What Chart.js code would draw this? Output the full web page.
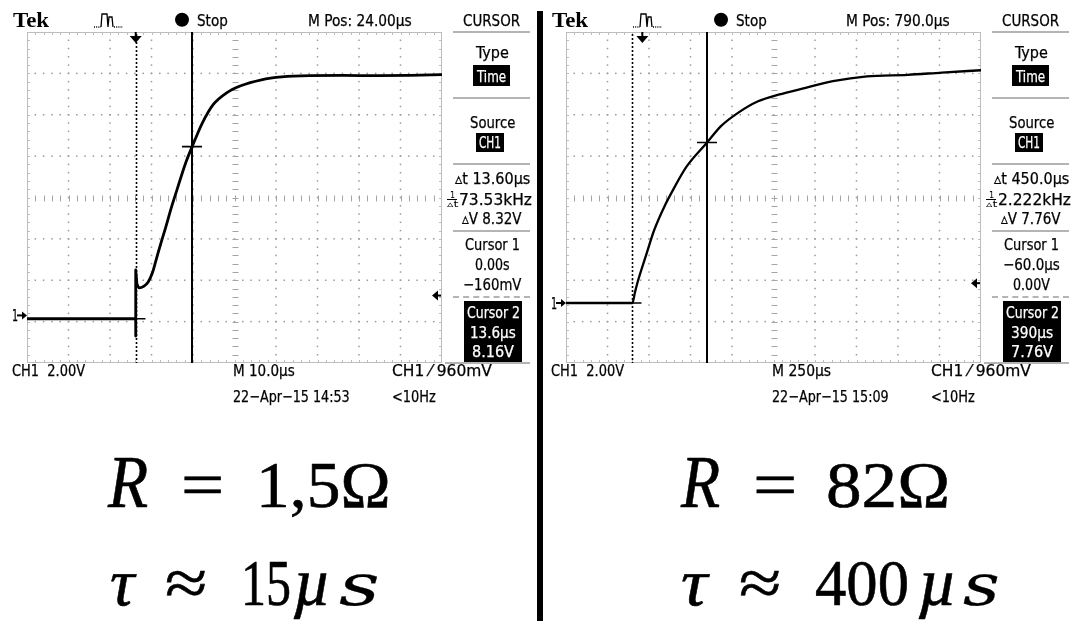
<!DOCTYPE html>
<html><head><meta charset="utf-8">
<script src="https://cdn.jsdelivr.net/npm/chart.js@4.4.1/dist/chart.umd.min.js"></script>
<style>
html,body{margin:0;padding:0;background:#fff;}
#root{position:relative;width:1073px;height:621px;overflow:hidden;background:#fff;}
canvas{position:absolute;top:0;}
.t{position:absolute;white-space:pre;transform-origin:0 0;color:#000;}
.box{position:absolute;background:#000;}
.sep{position:absolute;height:0;border-top:2px solid #b4b4b4;}
</style></head><body><div id="root"></div>
<script>
// ---- data (time in microseconds, voltage in volts) ----
// left trace: baseline + switching glitch (drawn straight), then the rise (smoothed)
const leftGlitchTimeUs = [-26.2, -15, -5, 0, 0, 0, 0.3];
const leftGlitchVolts  = [-0.16, -0.16, -0.16, -0.16, -1.0, 2.2, 1.5];
const leftRiseTimeUs = [0.3, 0.84, 2.0, 3.0, 4.0, 5.0, 6.0, 7.06, 8.67, 9.95, 12.05, 13.6, 16.1, 18.7, 21.9, 25.3, 30.3, 35.2, 41.9, 50, 58.5, 66, 73.8];
const leftRiseVolts  = [1.5, 1.33, 1.42, 1.62, 2.05, 2.75, 3.45, 4.15, 5.27, 6.08, 7.38, 8.16, 9.32, 10.2, 10.76, 11.1, 11.39, 11.53, 11.59, 11.6, 11.59, 11.6, 11.64];
const rightTimeUs = [-460, -200, -60, -45, -30, 20, 72, 133, 185, 267, 390, 472, 574, 697, 820, 984, 1148, 1353, 1599, 1804, 2040];
const rightVolts  = [0, 0, 0, 0.5, 0.97, 2.25, 3.54, 4.67, 5.47, 6.6, 7.76, 8.54, 9.18, 9.75, 10.07, 10.4, 10.72, 10.96, 11.03, 11.14, 11.25];

// axis windows: 10 horizontal divisions, 8 vertical divisions (2 V/div)
const leftXRange = [-26.2, 73.8];   // 10 µs/div
const rightXRange = [-460, 2040];   // 250 µs/div
const leftYRange = [-2.3, 13.7];
const rightYRange = [-2.9, 13.1];

// cursors / trigger
const leftCursors  = {c1t: 0,   c1v: -0.16, c2t: 13.6, c2v: 8.16, trigT: 0, trigLevel: 0.96};
const rightCursors = {c1t: -60, c1v: 0,     c2t: 390,  c2v: 7.76, trigT: 0, trigLevel: 0.96};

// text content
const leftHeader  = ['Tek', 'Stop', 'M Pos: 24.00µs', 'CURSOR'];
const rightHeader = ['Tek', 'Stop', 'M Pos: 790.0µs', 'CURSOR'];
const leftMenu  = ['Type', 'Time', 'Source', 'CH1', '▵t 13.60µs', '73.53kHz', '▵V 8.32V', 'Cursor 1', '0.00s', '−160mV', 'Cursor 2', '13.6µs', '8.16V'];
const rightMenu = ['Type', 'Time', 'Source', 'CH1', '▵t 450.0µs', '2.222kHz', '▵V 7.76V', 'Cursor 1', '−60.0µs', '0.00V', 'Cursor 2', '390µs', '7.76V'];
const leftFooter  = ['CH1  2.00V', 'M 10.0µs', 'CH1 ⁄ 960mV', '22−Apr−15 14:53', '<10Hz'];
const rightFooter = ['CH1  2.00V', 'M 250µs', 'CH1 ⁄ 960mV', '22−Apr−15 15:09', '<10Hz'];

const root = document.getElementById('root');
const SCOPE_FONT = '"Liberation Sans Narrow","DejaVu Sans Condensed","Liberation Sans",sans-serif';
const MATH_FONT = '"Liberation Serif","DejaVu Serif",serif';
const MATH_FONT2 = '"DejaVu Serif","Liberation Serif",serif';

function addText(str, x0, x1, base, opt) {
  opt = opt || {};
  const el = document.createElement('div');
  el.className = 't';
  const size = opt.size || 16;
  el.style.fontFamily = opt.family || SCOPE_FONT;
  el.style.fontSize = size + 'px';
  el.style.lineHeight = size + 'px';
  if (opt.bold) el.style.fontWeight = 'bold';
  if (opt.italic) el.style.fontStyle = 'italic';
  el.style.color = opt.color || '#000';
  if (opt.stroke) el.style.webkitTextStroke = opt.stroke + 'px ' + (opt.color || '#000');
  el.appendChild(document.createTextNode(str));
  const mark = document.createElement('i');
  mark.style.cssText = 'display:inline-block;width:0;height:0;vertical-align:baseline;';
  el.appendChild(mark);
  root.appendChild(el);
  const w = el.offsetWidth;
  const b = mark.offsetTop;
  el.style.left = x0 + 'px';
  el.style.top = (base - b) + 'px';
  el.style.transform = 'scaleX(' + ((x1 - x0) / w) + ')';
  return el;
}
function addBox(x, y, w, h) {
  const d = document.createElement('div');
  d.className = 'box';
  d.style.cssText = 'left:' + x + 'px;top:' + y + 'px;width:' + w + 'px;height:' + h + 'px;';
  root.appendChild(d);
}
function addSep(x, y, w, dashed, color, thick) {
  const d = document.createElement('div');
  d.className = 'sep';
  d.style.left = x + 'px'; d.style.top = y + 'px'; d.style.width = w + 'px';
  if (dashed) d.style.borderTopStyle = 'dashed';
  if (color) d.style.borderTopColor = color;
  if (thick) d.style.borderTopWidth = thick + 'px';
  root.appendChild(d);
}

const scopePlugin = {
  id: 'scope',
  beforeDatasetsDraw(chart) {
    const ctx = chart.ctx, a = chart.chartArea, x = chart.scales.x, y = chart.scales.y;
    const dx = (x.max - x.min) / 50, dy = (y.max - y.min) / 40;
    const X = i => x.getPixelForValue(x.min + i * dx);
    const Y = j => y.getPixelForValue(y.min + j * dy);
    ctx.save();
    ctx.fillStyle = '#9a9a9a';
    for (let J = 1; J < 8; J++) {
      if (J === 4) continue;
      const py = Y(J * 5);
      for (let i = 1; i < 50; i++) ctx.fillRect(X(i) - 0.75, py - 0.75, 1.5, 1.5);
    }
    for (let I = 1; I < 10; I++) {
      if (I === 5) continue;
      const px = X(I * 5);
      for (let j = 1; j < 40; j++) ctx.fillRect(px - 0.75, Y(j) - 0.75, 1.5, 1.5);
    }
    ctx.strokeStyle = '#a4a4a4';
    ctx.lineWidth = 1;
    ctx.beginPath();
    const cx = Math.round(X(25)) + 0.5, cy = Math.round(Y(20)) + 0.5;
    for (let j = 1; j < 40; j++) { const py = Math.round(Y(j)) + 0.5; ctx.moveTo(cx - 3, py); ctx.lineTo(cx + 3, py); }
    for (let i = 1; i < 50; i++) { const px = Math.round(X(i)) + 0.5; ctx.moveTo(px, cy - 3); ctx.lineTo(px, cy + 3); }
    ctx.stroke();
    ctx.strokeStyle = '#bdbdbd';
    ctx.strokeRect(a.left + 0.5, a.top + 0.5, a.right - a.left - 1, a.bottom - a.top - 1);
    ctx.beginPath();
    for (let i = 1; i < 50; i++) {
      const px = Math.round(X(i)) + 0.5;
      ctx.moveTo(px, a.top); ctx.lineTo(px, a.top + 3);
      ctx.moveTo(px, a.bottom); ctx.lineTo(px, a.bottom - 3);
    }
    for (let j = 1; j < 40; j++) {
      const py = Math.round(Y(j)) + 0.5;
      ctx.moveTo(a.left, py); ctx.lineTo(a.left + 3, py);
      ctx.moveTo(a.right, py); ctx.lineTo(a.right - 3, py);
    }
    ctx.stroke();
    ctx.restore();
  },
  afterDatasetsDraw(chart, args, o) {
    const ctx = chart.ctx, a = chart.chartArea, x = chart.scales.x, y = chart.scales.y;
    ctx.save();
    ctx.strokeStyle = '#000'; ctx.fillStyle = '#000';
    const x1 = Math.round(x.getPixelForValue(o.c1t)) + 0.5;
    ctx.lineWidth = 1.6; ctx.setLineDash([2, 2]);
    ctx.beginPath(); ctx.moveTo(x1, a.top + 2); ctx.lineTo(x1, a.bottom); ctx.stroke();
    ctx.setLineDash([]);
    const x2 = Math.round(x.getPixelForValue(o.c2t));
    ctx.lineWidth = 2;
    ctx.beginPath(); ctx.moveTo(x2, a.top); ctx.lineTo(x2, a.bottom); ctx.stroke();
    const y1 = y.getPixelForValue(o.c1v), y2 = y.getPixelForValue(o.c2v);
    ctx.lineWidth = 1.6;
    ctx.beginPath();
    ctx.moveTo(x1 - 9, y1); ctx.lineTo(x1 + 9, y1);
    ctx.moveTo(x2 - 10, y2); ctx.lineTo(x2 + 10, y2);
    ctx.stroke();
    const xt = x.getPixelForValue(o.trigT);
    ctx.lineWidth = 2;
    ctx.beginPath(); ctx.moveTo(xt, a.top); ctx.lineTo(xt, a.top + 6); ctx.stroke();
    ctx.beginPath(); ctx.moveTo(xt - 6, a.top + 4); ctx.lineTo(xt + 6, a.top + 4); ctx.lineTo(xt, a.top + 11); ctx.closePath(); ctx.fill();
    const yt = y.getPixelForValue(o.trigLevel);
    ctx.beginPath(); ctx.moveTo(a.right - 10, yt); ctx.lineTo(a.right - 4, yt - 5); ctx.lineTo(a.right - 4, yt + 5); ctx.closePath(); ctx.fill();
    ctx.beginPath(); ctx.moveTo(a.right - 5, yt); ctx.lineTo(a.right - 1, yt); ctx.stroke();
    const yg = y.getPixelForValue(0);
    ctx.beginPath(); ctx.moveTo(a.left - 10, yg); ctx.lineTo(a.left - 3, yg); ctx.stroke();
    ctx.beginPath(); ctx.moveTo(a.left, yg); ctx.lineTo(a.left - 5, yg - 4); ctx.lineTo(a.left - 5, yg + 4); ctx.closePath(); ctx.fill();
    ctx.restore();
  },
  afterDraw(chart) {
    const ctx = chart.ctx;
    ctx.save();
    ctx.strokeStyle = '#000'; ctx.lineWidth = 1.3;
    ctx.setLineDash([1, 1.2]);
    ctx.beginPath(); ctx.moveTo(94, 27); ctx.lineTo(101, 27); ctx.moveTo(114, 27); ctx.lineTo(123, 27); ctx.stroke();
    ctx.setLineDash([]);
    ctx.beginPath();
    ctx.moveTo(101, 27); ctx.lineTo(102, 14); ctx.lineTo(107, 14); ctx.lineTo(108, 27);
    ctx.moveTo(108, 27); ctx.lineTo(109, 17); ctx.lineTo(112, 17); ctx.lineTo(113, 27);
    ctx.stroke();
    ctx.fillStyle = '#000';
    ctx.beginPath(); ctx.arc(182, 19.7, 7, 0, Math.PI * 2); ctx.fill();
    ctx.restore();
  }
};

function makeScope(off, datasets, xr, yr, cur, header, menu, footer, menuW, footW) {
  const c = document.createElement('canvas');
  c.width = 534; c.height = 420;
  c.style.left = off + 'px';
  root.appendChild(c);
  const ds = datasets.map(d => ({
    data: d.t.map((t, i) => ({x: t, y: d.v[i]})),
    borderColor: '#000', borderWidth: d.lw, pointRadius: 0,
    tension: d.smooth ? 0.4 : 0, cubicInterpolationMode: d.smooth ? 'monotone' : 'default',
    fill: false, borderJoinStyle: 'round', borderCapStyle: 'round'
  }));
  const chart = new Chart(c, {
    type: 'line',
    data: {datasets: ds},
    options: {
      responsive: false, animation: false, events: [],
      layout: {padding: {left: 27, top: 32, right: 92, bottom: 57}},
      scales: {
        x: {type: 'linear', min: xr[0], max: xr[1], display: false},
        y: {type: 'linear', min: yr[0], max: yr[1], display: false}
      },
      plugins: {legend: {display: false}, tooltip: {enabled: false}, scope: cur}
    },
    plugins: [scopePlugin]
  });
  const S = 0.25;
  addText(header[0], off + 13, off + 49, 27, {family: '"Liberation Serif","DejaVu Serif",serif', bold: true, size: 21});
  addText(header[1], off + 197, off + 228, 26, {stroke: S});
  addText(header[2], off + menuW.mpos[0], off + menuW.mpos[1], 26, {stroke: S});
  addText(header[3], off + 463, off + 520, 26, {stroke: S});
  addSep(off + 453, 31, 77);
  addSep(off + 453, 97, 77);
  addSep(off + 453, 163, 77);
  addSep(off + 453, 230, 77);
  addSep(off + 453, 296, 77, true);
  addSep(off + 445, 362, 85);
  addBox(off + 473, 65, 37, 21);
  addBox(off + 476, 133, 28, 19);
  addBox(off + 464, 301, 58, 61);
  const W = menuW.items;
  addText(menu[0], off + 476, off + 509, 58, {stroke: S});
  addText(menu[1], off + 477, off + 506, 82, {color: '#fff', stroke: S});
  addText(menu[2], off + 470, off + 515, 128, {stroke: S});
  addText(menu[3], off + 479, off + 501, 148, {color: '#fff', stroke: S});
  addText(menu[4], off + W[0][0], off + W[0][1], 184, {stroke: S});
  addText('1', off + 450, off + 455, 198, {size: 9});
  addSep(off + 447, 199, 10, false, '#000', 1);
  addText('▵t', off + 447, off + 458, 207, {size: 9});
  addText(menu[5], off + W[1][0], off + W[1][1], 205, {stroke: S});
  addText(menu[6], off + W[2][0], off + W[2][1], 224, {stroke: S});
  addText(menu[7], off + 465, off + 520, 250, {stroke: S});
  addText(menu[8], off + W[3][0], off + W[3][1], 270, {stroke: S});
  addText(menu[9], off + W[4][0], off + W[4][1], 290, {stroke: S});
  addText(menu[10], off + 467, off + 520, 318, {color: '#fff', stroke: S});
  addText(menu[11], off + W[5][0], off + W[5][1], 338, {color: '#fff', stroke: S});
  addText(menu[12], off + W[6][0], off + W[6][1], 357, {color: '#fff', stroke: S});
  addText(footer[0], off + 12, off + 85, 376, {stroke: S});
  addText(footer[1], off + 233, off + footW[0], 376, {stroke: S});
  addText(footer[2], off + 392, off + 492, 376, {stroke: S});
  addText(footer[3], off + 233, off + 350, 402, {stroke: S});
  addText(footer[4], off + 392, off + 436, 402, {stroke: S});
  const yg = chart.scales.y.getPixelForValue(0);
  addText('1', off + 12, off + 18, yg + 6, {stroke: S});
  return chart;
}

makeScope(0,
  [{t: leftGlitchTimeUs, v: leftGlitchVolts, lw: 2.8, smooth: false},
   {t: leftRiseTimeUs, v: leftRiseVolts, lw: 2.8, smooth: true}],
  leftXRange, leftYRange, leftCursors, leftHeader, leftMenu, leftFooter,
  {mpos: [308, 412], items: [[455, 530], [459, 532], [462, 522], [475, 510], [463, 521], [470, 516], [472, 514]]}, [295]);
makeScope(539,
  [{t: rightTimeUs, v: rightVolts, lw: 2.3, smooth: true}],
  rightXRange, rightYRange, rightCursors, rightHeader, rightMenu, rightFooter,
  {mpos: [307, 411], items: [[455, 530], [459, 532], [462, 522], [464, 521], [474, 511], [472, 514], [472, 514]]}, [292]);

addBox(537, 11, 6, 610);

// formulas: [text, left, right, baseline, italic, size, font]
const mathTokens = [
  ['R', 108, 148, 507, true, 74, 1], ['=', 181, 224, 507, false, 66, 1], ['1,5Ω', 256, 391, 507, false, 66, 1],
  ['τ', 110, 134, 605, true, 68, 1], ['≈', 165, 207, 605, false, 66, 1], ['15', 241, 291, 605, false, 66, 1], ['µ', 293, 331, 605, true, 68, 1], ['s', 339, 380, 605, true, 58, 2],
  ['R', 681, 720, 507, true, 74, 1], ['=', 753, 797, 507, false, 66, 1], ['82Ω', 826, 950, 507, false, 66, 1],
  ['τ', 681, 707, 605, true, 68, 1], ['≈', 739, 781, 605, false, 66, 1], ['400', 815, 909, 605, false, 66, 1], ['µ', 918, 957, 605, true, 68, 1], ['s', 963, 1000, 605, true, 58, 2]
];
mathTokens.forEach(m => addText(m[0], m[1], m[2], m[3], {family: m[6] === 2 ? MATH_FONT2 : MATH_FONT, italic: m[4], size: m[5], stroke: m[6] === 2 ? 0.2 : 0.6}));
</script></body></html>
